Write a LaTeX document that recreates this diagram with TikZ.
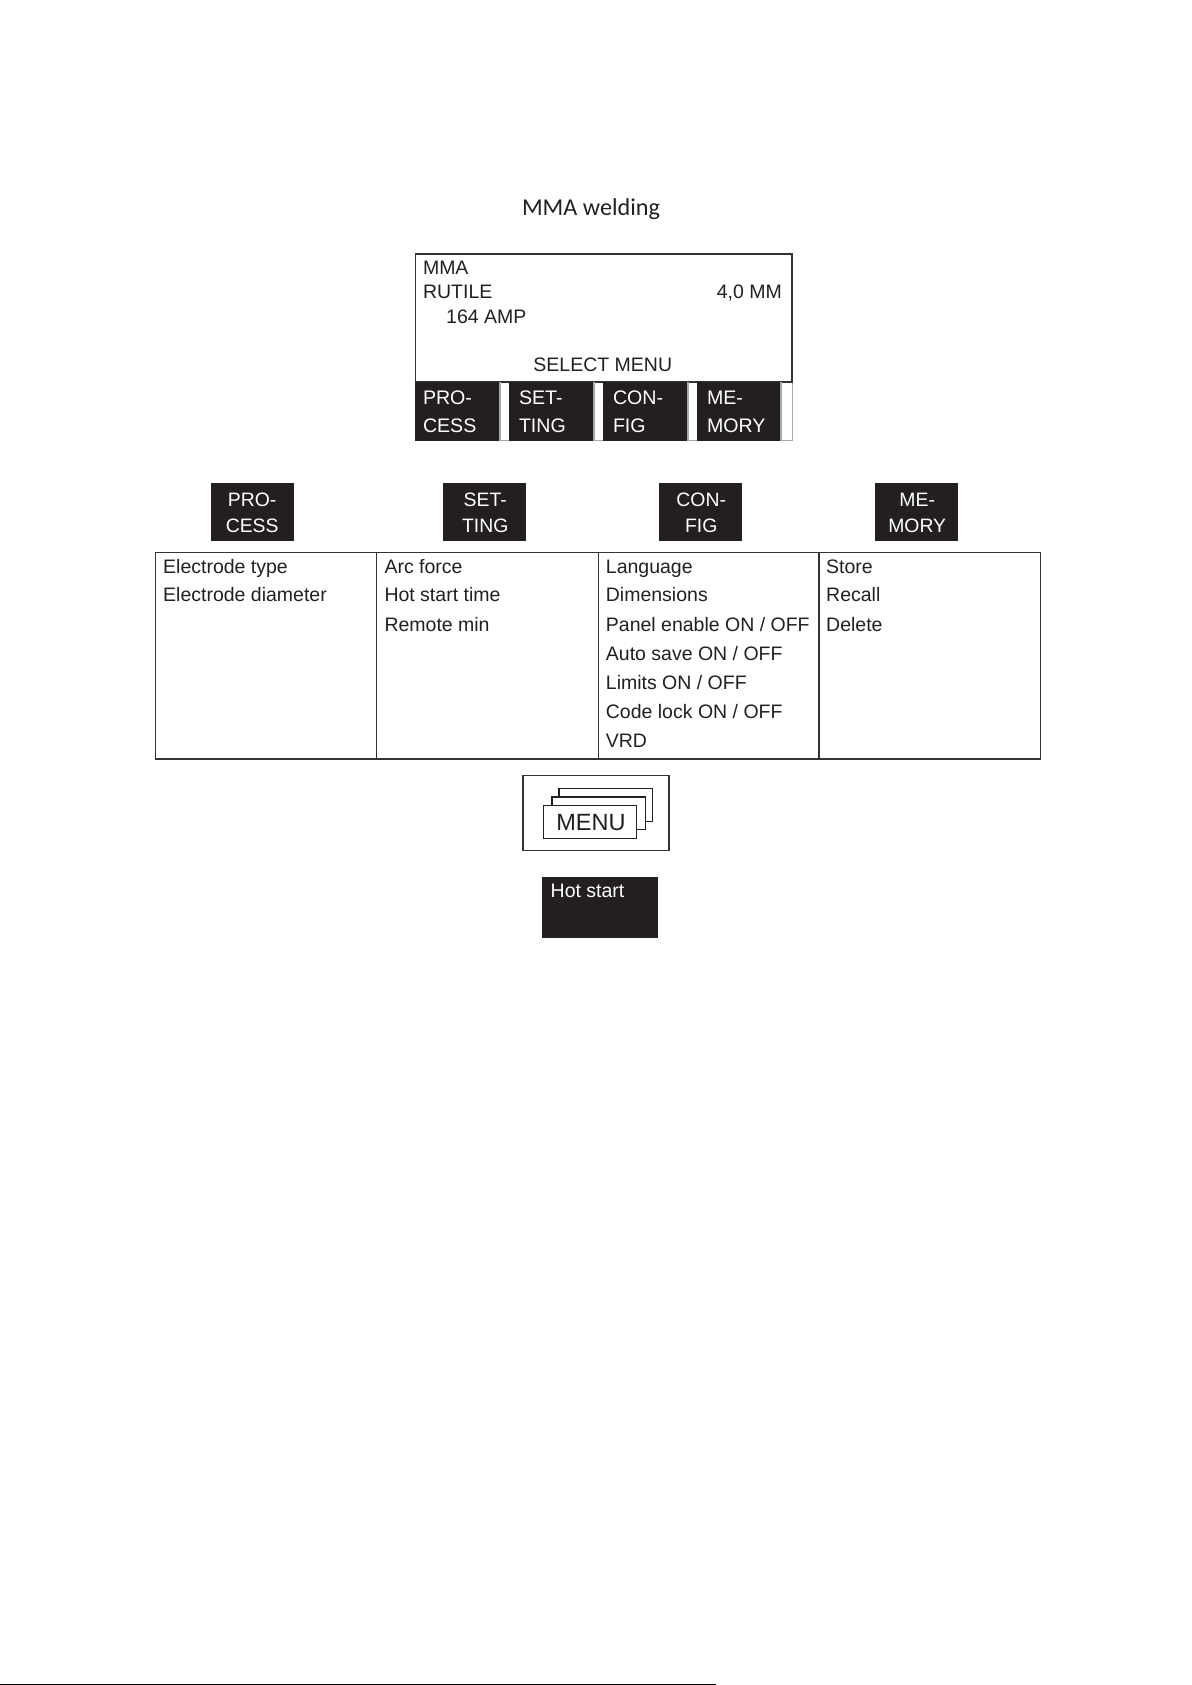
\documentclass[tikz,border=0pt]{standalone}
\usepackage{fontspec}
\setmainfont{Liberation Sans}
\newfontfamily\titlefont{Carlito}
\definecolor{panelblack}{HTML}{231F20}
\definecolor{rulegray}{HTML}{333333}
\definecolor{edgegray}{HTML}{A8A8A8}
\tikzset{
  screentext/.style={anchor=base west,inner sep=0pt,text=panelblack,font=\fontsize{19.5}{19.5}\selectfont},
  softtext/.style={screentext,text=white,font=\fontsize{19.6}{19.6}\selectfont},
  keytext/.style={softtext,anchor=base,font=\fontsize{19.4}{19.4}\selectfont},
  softkey/.style={fill=panelblack,inner sep=0pt,minimum width=83.3pt,minimum height=58pt},
  frame/.style={draw=rulegray,line width=1.5pt},
  card/.style={draw=panelblack,line width=1.5pt,fill=white},
}

\begin{document}
\begin{tikzpicture}[x=1pt,y=-1pt]
\useasboundingbox (0,0) rectangle (1191,1685);

\node[anchor=base,inner sep=0pt,text=panelblack,font=\titlefont\fontsize{24.2}{24.2}\selectfont] (title) at (591,216) {MMA welding};

\draw[edgegray,line width=.8pt] (499,440) -- (792,440) -- (792,382);
\draw[frame] (415.5,382) -- (415.5,254) -- (792,254) -- (792,382) -- cycle;
\fill[panelblack] (415,382) rectangle (499,440.5);
\fill[edgegray] (499,382) rectangle (501,440.5);
\fill[panelblack] (509,382) rectangle (592.7,440.5);
\fill[edgegray] (592.7,382) rectangle (594.7,440.5);
\fill[panelblack] (603,382) rectangle (687,440.5);
\fill[edgegray] (687,382) rectangle (689,440.5);
\fill[panelblack] (697,382) rectangle (780,440.5);
\fill[edgegray] (780,382) rectangle (782,440.5);

\node[screentext] (mma) at (422.8,275) {MMA};
\node[screentext] (rutile) at (422.8,298.7) {RUTILE};
\node[screentext] (amp) at (446,323.3) {164 AMP};
\node[screentext,anchor=base east] (dia) at (782,298.7) {4,0 MM};
\node[screentext,anchor=base] (select) at (602.8,371.7) {SELECT MENU};

\node[softtext] (pro) at (422.8,404.3) {PRO-};
\node[softtext] (cess) at (422.8,432) {CESS};
\node[softtext] (set) at (518.8,404.3) {SET-};
\node[softtext] (ting) at (518.8,432) {TING};
\node[softtext] (con) at (612.8,404.3) {CON-};
\node[softtext] (fig) at (612.8,432) {FIG};
\node[softtext] (me) at (706.8,404.3) {ME-};
\node[softtext] (mory) at (706.8,432) {MORY};

\node[softkey] (keyprocess) at (252.2,511.7) {};
\node[softkey] (keysetting) at (484.5,511.7) {};
\node[softkey] (keyconfig) at (700.4,511.7) {};
\node[softkey] (keymemory) at (916.5,511.7) {};

\node[keytext] (keypro) at (252.2,506) {PRO-};
\node[keytext] (keycess) at (252.2,532.7) {CESS};
\node[keytext] (keyset) at (485.2,506) {SET-};
\node[keytext] (keyting) at (485.2,532.7) {TING};
\node[keytext] (keycon) at (701.2,506) {CON-};
\node[keytext] (keyfig) at (701.2,532.7) {FIG};
\node[keytext] (keyme) at (917.2,506) {ME-};
\node[keytext] (keymory) at (917.2,532.7) {MORY};

\draw[frame] (155.7,552.7) rectangle (1040.7,759);
\draw[frame] (376.7,552.7) -- (376.7,759);
\draw[frame] (598.3,552.7) -- (598.3,759);
\draw[frame] (819,552.7) -- (819,759);

\node[screentext] (type) at (163,573.3) {Electrode type};
\node[screentext] (diameter) at (163,601.7) {Electrode diameter};

\node[screentext] (arc) at (384.3,573.3) {Arc force};
\node[screentext] (hot) at (384.3,601.7) {Hot start time};
\node[screentext] (remote) at (384.3,631) {Remote min};

\node[screentext] (language) at (605.7,573.3) {Language};
\node[screentext] (dimensions) at (605.7,601.7) {Dimensions};
\node[screentext] (panel) at (605.7,631) {Panel enable ON / OFF};
\node[screentext] (auto) at (605.7,660) {Auto save ON / OFF};
\node[screentext] (limits) at (605.7,689.3) {Limits ON / OFF};
\node[screentext] (code) at (605.7,718) {Code lock ON / OFF};
\node[screentext] (vrd) at (605.7,747.3) {VRD};

\node[screentext] (store) at (826,573.3) {Store};
\node[screentext] (recall) at (826,601.7) {Recall};
\node[screentext] (delete) at (826,631) {Delete};

\draw[frame] (523,775.7) rectangle (669,850.7);
\draw[card] (559,788.3) rectangle (652.3,821.3);
\draw[card] (552,797) rectangle (645.3,829.3);
\draw[card] (543.3,805.7) rectangle (636.3,838.3);
\node[screentext,anchor=base,font=\fontsize{23.5}{23.5}\selectfont] (menu) at (591,830) {MENU};

\fill[panelblack] (542.3,876.7) rectangle (658.3,938);
\node[softtext,font=\fontsize{19.5}{19.5}\selectfont] (hotstart) at (550.5,897.2) {Hot start};

\draw[black,line width=1.2pt] (0,1684.4) -- (716,1684.4);

\end{tikzpicture}
\end{document}
